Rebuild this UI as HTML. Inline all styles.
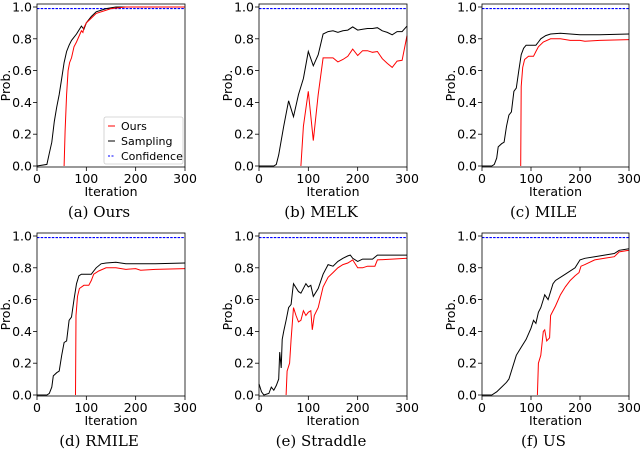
<!DOCTYPE html>
<html><head><meta charset="utf-8">
<style>
html,body{margin:0;padding:0;background:#fff;}
svg{display:block;}
text{font-family:"DejaVu Sans","Liberation Sans",sans-serif;fill:#000;}
.cap{font-family:"DejaVu Serif","Liberation Serif",serif;font-size:15px;}
</style></head>
<body>
<svg id="fig" width="640" height="476" viewBox="0 0 640 476" xmlns="http://www.w3.org/2000/svg"></svg>
<script>
const xTicks = [0, 100, 200, 300];
const yTicks = [0.0, 0.2, 0.4, 0.6, 0.8, 1.0];
const yTickLabels = ["0.0", "0.2", "0.4", "0.6", "0.8", "1.0"];
const confidence = 0.99;
const captions = ["(a) Ours", "(b) MELK", "(c) MILE", "(d) RMILE", "(e) Straddle", "(f) US"];
const legendLabels = ["Ours", "Sampling", "Confidence"];

const aSampIter = [0,20,25,30,35,40,45,50,55,60,65,70,80,90,95,100,110,120,140,160,300];
const aSampVal  = [0,0.01,0.08,0.15,0.28,0.37,0.45,0.55,0.65,0.72,0.76,0.79,0.83,0.88,0.86,0.9,0.94,0.97,0.99,1.0,1.0];
const aOursIter = [55,55,57,60,63,66,70,75,80,90,93,95,100,110,120,150,180,300];
const aOursVal  = [0,0,0.22,0.45,0.6,0.65,0.68,0.75,0.78,0.85,0.84,0.87,0.9,0.93,0.96,0.99,1.0,1.0];

const bSampIter = [0,30,35,40,50,60,70,80,90,100,110,120,130,140,150,160,170,180,190,200,210,220,230,240,250,260,270,280,290,300];
const bSampVal  = [0,0,0.01,0.07,0.25,0.41,0.31,0.45,0.55,0.72,0.63,0.7,0.83,0.845,0.85,0.84,0.85,0.855,0.875,0.855,0.86,0.865,0.865,0.87,0.85,0.84,0.825,0.845,0.845,0.88];
const bOursIter = [85,90,100,110,120,130,140,150,160,170,180,190,200,210,220,230,240,250,260,270,280,290,300];
const bOursVal  = [0,0.25,0.47,0.16,0.45,0.68,0.68,0.68,0.655,0.67,0.69,0.735,0.695,0.725,0.725,0.715,0.72,0.675,0.645,0.62,0.66,0.665,0.82];

const cSampIter = [0,20,25,30,33,40,45,50,55,60,65,70,75,80,85,90,100,110,115,120,130,140,160,180,200,240,300];
const cSampVal  = [0,0,0.01,0.05,0.12,0.14,0.15,0.25,0.32,0.34,0.47,0.49,0.6,0.7,0.74,0.76,0.76,0.76,0.78,0.8,0.82,0.83,0.835,0.83,0.825,0.825,0.83];
const cOursIter = [79,80,83,87,95,105,110,115,125,140,160,180,200,210,240,300];
const cOursVal  = [0,0.5,0.62,0.67,0.69,0.69,0.72,0.75,0.78,0.8,0.8,0.79,0.79,0.785,0.79,0.795];

const dSampIter = [0,20,25,30,33,40,45,50,55,60,65,70,75,80,85,90,100,110,115,120,130,140,160,180,200,240,300];
const dSampVal  = [0,0,0.01,0.05,0.12,0.14,0.15,0.25,0.33,0.34,0.47,0.49,0.6,0.7,0.75,0.76,0.76,0.76,0.78,0.8,0.825,0.83,0.835,0.825,0.825,0.825,0.83];
const dOursIter = [78,79,82,86,95,105,110,115,125,140,160,180,200,210,240,300];
const dOursVal  = [0,0.5,0.62,0.67,0.69,0.69,0.72,0.76,0.78,0.8,0.8,0.79,0.795,0.785,0.79,0.795];

const eSampIter = [0,5,10,20,25,30,35,40,42,45,47,50,55,60,65,68,70,80,85,95,100,105,110,120,130,140,150,160,170,180,185,190,200,210,230,240,270,300];
const eSampVal  = [0.07,0.02,0,0.01,0.05,0.03,0.06,0.1,0.27,0.17,0.35,0.4,0.47,0.55,0.57,0.65,0.7,0.65,0.64,0.7,0.68,0.69,0.62,0.67,0.76,0.82,0.81,0.84,0.86,0.875,0.88,0.86,0.84,0.855,0.855,0.88,0.88,0.88];
const eOursIter = [55,57,62,65,70,75,80,85,90,95,100,105,108,112,120,130,140,150,160,170,180,190,200,210,220,235,240,270,300];
const eOursVal  = [0,0.15,0.2,0.35,0.55,0.5,0.46,0.47,0.53,0.5,0.52,0.53,0.41,0.5,0.55,0.68,0.74,0.77,0.8,0.82,0.83,0.85,0.8,0.8,0.81,0.81,0.85,0.855,0.86];

const fSampIter = [0,20,30,40,50,55,60,70,80,90,100,105,110,115,120,125,128,135,145,150,170,190,200,210,230,250,270,280,300];
const fSampVal  = [0,0,0.02,0.05,0.08,0.1,0.15,0.25,0.3,0.35,0.42,0.47,0.45,0.52,0.55,0.6,0.63,0.6,0.7,0.72,0.76,0.8,0.85,0.86,0.87,0.88,0.89,0.91,0.92];
const fOursIter = [113,115,120,125,128,132,138,140,150,160,170,180,190,198,202,210,230,250,270,280,300];
const fOursVal  = [0,0.2,0.25,0.4,0.41,0.34,0.36,0.5,0.56,0.63,0.68,0.72,0.75,0.77,0.81,0.82,0.85,0.86,0.87,0.9,0.91];

const panels = [
  {x0:37,x1:185,y0:166,y1:7,top:4,bot:167, s:[aSampIter,aSampVal], o:[aOursIter,aOursVal], legend:true},
  {x0:259,x1:407,y0:166,y1:7,top:4,bot:167, s:[bSampIter,bSampVal], o:[bOursIter,bOursVal]},
  {x0:482,x1:629,y0:166,y1:7,top:4,bot:167, s:[cSampIter,cSampVal], o:[cOursIter,cOursVal]},
  {x0:37,x1:185,y0:395,y1:236,top:233,bot:396, s:[dSampIter,dSampVal], o:[dOursIter,dOursVal]},
  {x0:259,x1:407,y0:395,y1:236,top:233,bot:396, s:[eSampIter,eSampVal], o:[eOursIter,eOursVal]},
  {x0:482,x1:629,y0:395,y1:236,top:233,bot:396, s:[fSampIter,fSampVal], o:[fOursIter,fOursVal]},
];
const NS = "http://www.w3.org/2000/svg";
const svg = document.getElementById('fig');
function mk(tag, attrs, parent, txt){
  const e = document.createElementNS(NS, tag);
  for (const k in attrs) e.setAttribute(k, attrs[k]);
  if (txt !== undefined) e.textContent = txt;
  (parent||svg).appendChild(e); return e;
}
panels.forEach((p, i) => {
  const g = mk('g', {});
  
  
  const sx = v => p.x0 + (p.x1 - p.x0) * v / 300;
  const sy = v => p.y0 + (p.y1 - p.y0) * v;
  yTicks.forEach((t, k) => {
    const y = sy(t);
    mk('line', {x1:p.x0-4, x2:p.x0, y1:y, y2:y, stroke:'#000', 'stroke-width':0.8}, g);
    const tl = mk('text', {x:p.x0-5, y:y+4.5, 'font-size':12.5, 'text-anchor':'end'}, g, yTickLabels[k]);
    
    
  });
  xTicks.forEach(t => {
    const x = sx(t);
    mk('line', {x1:x, x2:x, y1:p.bot, y2:p.bot+4, stroke:'#000', 'stroke-width':0.8}, g);
    const tl = mk('text', {x:x, y:p.bot+16, 'font-size':12.5, 'text-anchor':'middle'}, g, String(t));
    
    
  });
  const xl = mk('text', {x:(p.x0+p.x1)/2, y:p.bot+29, 'font-size':12.5, 'text-anchor':'middle'}, g, 'Iteration');
  
  
  const yc = (p.top + p.bot) / 2;
  const ylab = mk('text', {x:p.x0-27, y:yc, 'font-size':12.5, 'text-anchor':'middle', transform:`rotate(-90 ${p.x0-27} ${yc})`}, g, 'Prob.');
  
  
  const cy = sy(confidence);
  const conf = mk('line', {x1:p.x0, x2:p.x1, y1:cy, y2:cy, stroke:'#0000ff', 'stroke-width':1.1, 'stroke-dasharray':'2.5,1.2'}, g);
  
  
  const pts = (arr) => arr[0].map((it, k) => sx(it).toFixed(1) + ',' + sy(arr[1][k]).toFixed(1)).join(' ');
  const sl = mk('polyline', {points:pts(p.s), fill:'none', stroke:'#000', 'stroke-width':1}, g);
  
  
  const ol = mk('polyline', {points:pts(p.o), fill:'none', stroke:'#ff0000', 'stroke-width':1}, g);
  
  
  const fr = mk('rect', {x:p.x0, y:p.top, width:p.x1-p.x0, height:p.bot-p.top, fill:'none', stroke:'#000', 'stroke-width':0.8}, g);
  
  
  const cap = mk('text', {x:(p.x0+p.x1)/2 - 12, y:p.bot+50, 'text-anchor':'middle', class:'cap'}, g, captions[i]);
  
  
  if (p.legend) {
    const lg = mk('g', {}, g);
    
    
    mk('rect', {x:104, y:117, width:79, height:47, fill:'#fff', stroke:'#ccc', 'stroke-width':0.8, rx:2}, lg);
    const cols = ['#ff0000', '#000', '#0000ff'];
    legendLabels.forEach((lab, k) => {
      const y = 126 + k * 15;
      const ln = mk('line', {x1:108, x2:115, y1:y, y2:y, stroke:cols[k], 'stroke-width':1, 'stroke-dasharray': k===2 ? '2,1.5' : 'none'}, lg);
      
      
      const lt = mk('text', {x:121, y:y+4, 'font-size':11}, lg, lab);
      
      
    });
  }
});
</script>
</body></html>
